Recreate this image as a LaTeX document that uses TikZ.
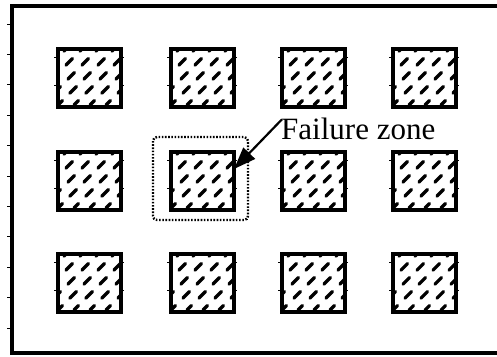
\documentclass[tikz,border=0pt]{standalone}
\usepackage{fontspec}
\setmainfont{Liberation Serif}
\usetikzlibrary{arrows.meta,calc}
\tikzset{
  frame/.style={line width=3.4pt},
  pier/.style={draw, line width=3.4pt, minimum width=63pt, minimum height=58pt,
    inner sep=0pt, outer sep=0pt, anchor=north west},
  hatch/.style={line width=3.2pt, dash pattern=on 9.5pt off 10.3pt, dash phase=3pt, line cap=round},
  edgetick/.style={line width=1pt},
  zonebox/.style={line width=2.4pt, dash pattern=on 1.6pt off 1.6pt, rounded corners=4pt},
  pointer/.style={line width=2.2pt, -{Triangle[length=22pt,width=16pt]}},
}
% one hatched square: #1 name, #2 left, #3 top
\newcommand{\pierbox}[3]{%
  \node[pier] (#1) at (#2,#3) {};
  \begin{scope}
    \clip (#1.north west) rectangle (#1.south east);
    \foreach \k in {-64,-48,...,70}{
      \draw[hatch] ($(#1.south west)+(\k,-2)$) -- ++(75,-75);
    }
  \end{scope}
  \draw[pier] (#1.north west) rectangle (#1.south east);
  \foreach \d in {8,36}{
    \draw[edgetick] ($(#1.north west)+(-4,\d)$) -- ++(5,0);
    \draw[edgetick] ($(#1.north east)+(-1,\d)$) -- ++(4,0);
  }
}
\begin{document}
\begin{tikzpicture}[x=1pt,y=-1pt]
  \useasboundingbox (0,0) rectangle (497,356);
  % outer frame (open on the right, cut by the page edge)
  \draw[frame] (500,6) -- (12,6) -- (12,353) -- (500,353);
  \foreach \k in {0,...,10}{
    \draw[edgetick] (7,24+30.4*\k) -- (12,24+30.4*\k);
  }
  % grid of hatched squares
  \foreach \c/\x in {1/58,2/171,3/282,4/393}{
    \foreach \r/\y in {1/49,2/152,3/254}{
      \pierbox{s\r\c}{\x}{\y}
    }
  }
  % failure zone around the centre-left square
  \draw[zonebox] (153,137) rectangle (248,220);
  \node[anchor=base west, inner sep=0pt, font=\fontsize{31}{36}\selectfont] (lbl) at (281,139) {Failure zone};
  \coordinate (tip) at ($(s22.east)+(0,-12)$);
  \draw[pointer] ($(lbl.north west)+(1,2)$) -- (tip);
\end{tikzpicture}
\end{document}
